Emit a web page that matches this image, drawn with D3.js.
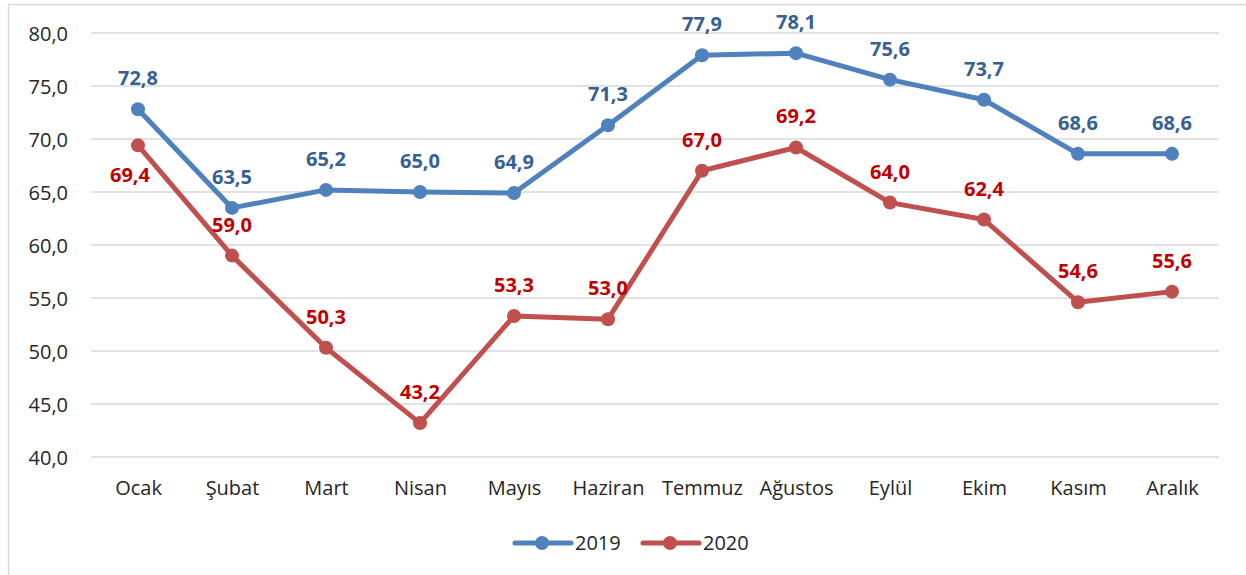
<!DOCTYPE html>
<html><head><meta charset="utf-8">
<script src="https://cdn.jsdelivr.net/npm/d3@7"></script>
<style>
html,body{margin:0;padding:0;background:#fff;}
svg{display:block;font-family:"Open Sans",sans-serif;}
</style></head>
<body><svg id="c" width="1246" height="575"></svg>
<script>
const months = ["Ocak","Şubat","Mart","Nisan","Mayıs","Haziran","Temmuz","Ağustos","Eylül","Ekim","Kasım","Aralık"];
const values2019 = [72.8,63.5,65.2,65.0,64.9,71.3,77.9,78.1,75.6,73.7,68.6,68.6];
const values2020 = [69.4,59.0,50.3,43.2,53.3,53.0,67.0,69.2,64.0,62.4,54.6,55.6];
const yTicks = [40,45,50,55,60,65,70,75,80];
const seriesNames = ["2019","2020"];

const svg = d3.select("#c");
const fmt = v => d3.format(".1f")(v).replace(".", ",");

// frame
svg.append("line").attr("x1",8).attr("x2",1246).attr("y1",4.5).attr("y2",4.5).attr("stroke","#d9d9d9").attr("stroke-width",1.5);
svg.append("line").attr("x1",8.5).attr("x2",8.5).attr("y1",4).attr("y2",575).attr("stroke","#d9d9d9").attr("stroke-width",1.5);

const x = d3.scalePoint().domain(months).range([91,1219]).padding(0.5);
const y = d3.scaleLinear().domain([40,80]).range([457,33]);

// gridlines
svg.append("g").selectAll("line").data(yTicks).join("line")
  .attr("x1",91).attr("x2",1219)
  .attr("y1",d=>y(d)).attr("y2",d=>y(d))
  .attr("stroke","#d9d9d9").attr("stroke-width",1.5);

// y axis labels
const yAxis = d3.axisLeft(y).tickValues(yTicks).tickFormat(fmt).tickSize(0).tickPadding(0);
const gy = svg.append("g").attr("transform","translate(68,0)").call(yAxis);
gy.select(".domain").remove();
gy.selectAll("text").attr("font-size",20).attr("fill","#262626").attr("font-family","'Open Sans',sans-serif").attr("dy","0.35em");

// x axis labels
const xAxis = d3.axisBottom(x).tickSize(0).tickPadding(0);
const gx = svg.append("g").attr("transform","translate(0,478)").call(xAxis);
gx.select(".domain").remove();
gx.selectAll("text").attr("font-size",20).attr("fill","#262626").attr("font-family","'Open Sans',sans-serif").attr("dy","0.35em").attr("y",10);

const series = [
  {name:seriesNames[0], vals:values2019, line:"#4f81bd", label:"#376092"},
  {name:seriesNames[1], vals:values2020, line:"#c0504d", label:"#c00000"}
];
const line = d3.line().x((d,i)=>x(months[i])).y(d=>y(d));

series.forEach((s,si)=>{
  const g = svg.append("g");
  g.append("path").datum(s.vals).attr("d",line).attr("fill","none")
    .attr("stroke",s.line).attr("stroke-width",5).attr("stroke-linejoin","round").attr("stroke-linecap","round");
  g.selectAll("circle").data(s.vals).join("circle")
    .attr("cx",(d,i)=>x(months[i])).attr("cy",d=>y(d)).attr("r",7).attr("fill",s.line);
  g.selectAll("text").data(s.vals).join("text")
    .attr("x",(d,i)=>x(months[i]) + ((si===1 && i===0)? -8 : 0))
    .attr("y",(d,i)=>y(d) + ((si===1 && i===0)? 30 : -31))
    .attr("dy","0.35em").attr("text-anchor","middle")
    .attr("font-size",20).attr("font-weight","bold").attr("fill",s.label)
    .text(d=>fmt(d));
});

// legend
const lg = svg.append("g");
const legX = [515, 643];
series.forEach((s,i)=>{
  const x0 = legX[i];
  lg.append("line").attr("x1",x0).attr("x2",x0+56).attr("y1",543).attr("y2",543)
    .attr("stroke",s.line).attr("stroke-width",5).attr("stroke-linecap","round");
  lg.append("circle").attr("cx",x0+27).attr("cy",543).attr("r",7).attr("fill",s.line);
  lg.append("text").attr("x",x0+60).attr("y",543).attr("dy","0.35em")
    .attr("font-size",20).attr("fill","#262626").text(s.name);
});
</script>
</body></html>
